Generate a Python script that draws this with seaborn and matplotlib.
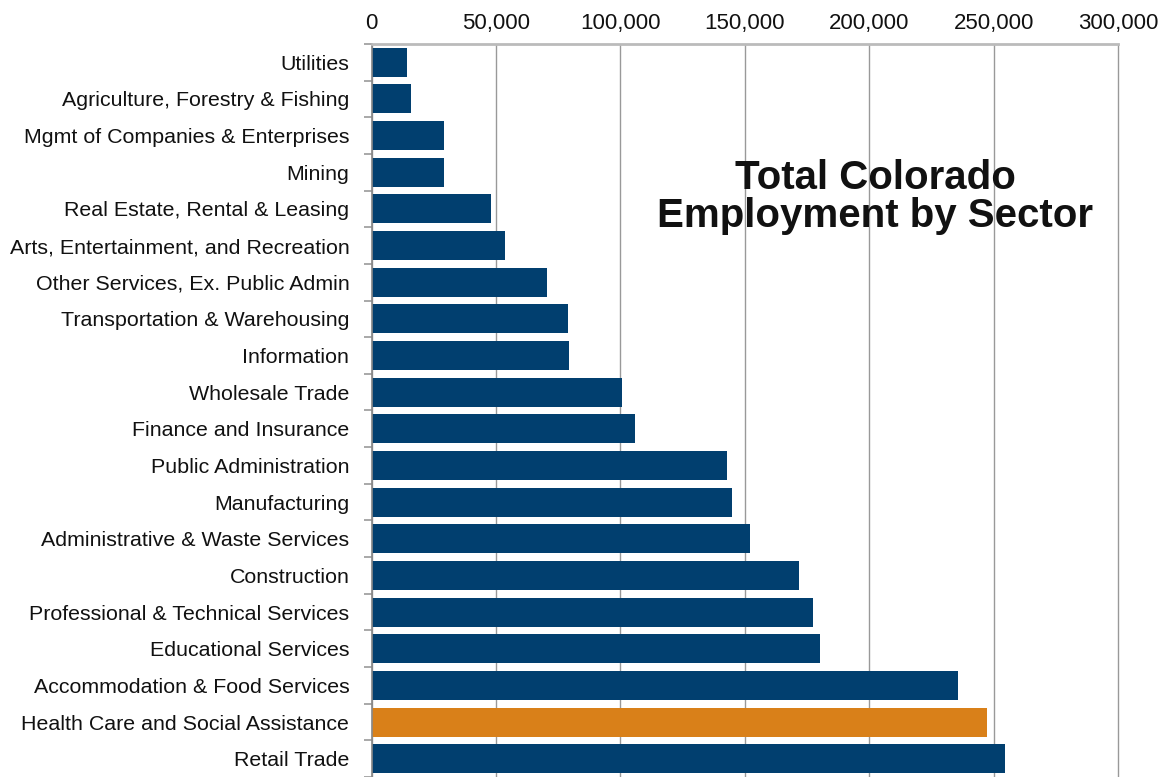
import matplotlib
matplotlib.use("Agg")
import matplotlib.pyplot as plt
import seaborn as sns
import pandas as pd
import numpy as np

sectors = [
    "Utilities",
    "Agriculture, Forestry & Fishing",
    "Mgmt of Companies & Enterprises",
    "Mining",
    "Real Estate, Rental & Leasing",
    "Arts, Entertainment, and Recreation",
    "Other Services, Ex. Public Admin",
    "Transportation & Warehousing",
    "Information",
    "Wholesale Trade",
    "Finance and Insurance",
    "Public Administration",
    "Manufacturing",
    "Administrative & Waste Services",
    "Construction",
    "Professional & Technical Services",
    "Educational Services",
    "Accommodation & Food Services",
    "Health Care and Social Assistance",
    "Retail Trade",
]
employment = [
    14300, 15900, 29100, 29100, 48000, 53700, 70500, 79000, 79400, 100700,
    105900, 142900, 144900, 152100, 171800, 177500, 180300, 235700, 247400, 254600,
]
x_ticks = [0, 50000, 100000, 150000, 200000, 250000, 300000]
x_tick_labels = ["0", "50,000", "100,000", "150,000", "200,000", "250,000", "300,000"]
highlight = "Health Care and Social Assistance"

NAVY = "#013F6F"
ORANGE = "#D98019"

sns.set_theme(style="white")
plt.rcParams["font.family"] = ["Liberation Sans", "DejaVu Sans"]

df = pd.DataFrame({"sector": sectors, "employment": employment})
palette = {s: (ORANGE if s == highlight else NAVY) for s in sectors}

fig = plt.figure(figsize=(11.65, 7.77), dpi=100)
ax = fig.add_axes([371.5 / 1165, 0.0, (1118 - 371.5) / 1165, 1 - 44 / 777])

sns.barplot(data=df, x="employment", y="sector", hue="sector", palette=palette,
            order=sectors, hue_order=sectors, orient="h", width=0.79,
            legend=False, ax=ax, saturation=1, linewidth=0, edgecolor="none")

ax.set_xlim(0, 300000)
ax.set_ylim(19.36, -0.5)
ax.set_xlabel("")
ax.set_ylabel("")

ax.xaxis.tick_top()
ax.set_xticks(x_ticks)
ax.set_xticklabels(x_tick_labels, fontsize=16, color="#111111")
ax.tick_params(axis="x", length=0, pad=7)

ax.set_yticks(range(len(sectors)))
ax.set_yticklabels(sectors, fontsize=15.4, color="#111111")
ax.tick_params(axis="y", which="major", length=0, pad=16)
ax.set_yticks(np.arange(-0.5, len(sectors), 1.0), minor=True)
ax.tick_params(axis="y", which="minor", length=6, width=1.2, color="#999999", left=True)

ax.grid(axis="x", color="#999999", linewidth=1.0)
ax.grid(axis="y", visible=False)
ax.set_axisbelow(True)
for gl in ax.get_xgridlines():
    gl.set_clip_on(False)

for side in ["right", "bottom"]:
    ax.spines[side].set_visible(False)
ax.spines["top"].set_color("#bbbbbb")
ax.spines["top"].set_linewidth(2.0)
ax.spines["left"].set_color("#888888")
ax.spines["left"].set_linewidth(1.2)

fig.text(875 / 1165, 1 - 197 / 777, "Total Colorado\nEmployment by Sector",
         ha="center", va="center", fontsize=29, fontweight="bold",
         color="#111111", linespacing=0.98)

fig.savefig("out.png", dpi=100)
